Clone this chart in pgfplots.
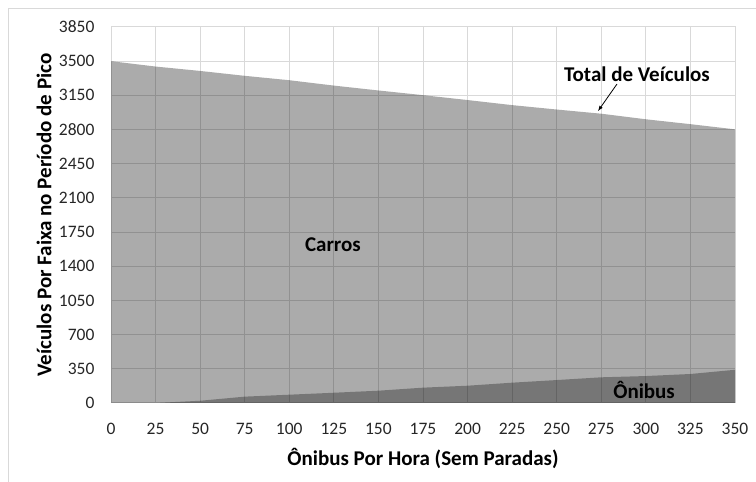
\documentclass[border=0pt]{standalone}
\usepackage{fontspec}
\setmainfont{Carlito}
\usepackage{pgfplots}
\pgfplotsset{compat=1.18}
\definecolor{gridc}{HTML}{D9D9D9}
\begin{document}
\begin{tikzpicture}[x=1pt,y=1pt]
\useasboundingbox (0,0) rectangle (756,482);
\draw[gridc, line width=1.2pt] (8.5,-5) -- (8.5,473.5) -- (770,473.5);
\begin{axis}[
    at={(111pt,79pt)}, anchor=south west,
    scale only axis, width=624pt, height=376pt,
    xmin=0, xmax=350, ymin=0, ymax=3850,
    xtick={0,25,...,350}, ytick={0,350,...,3850},
    grid=major, grid style={gridc, line width=1pt},
    axis line style={gridc, line width=1pt},
    major tick length=0pt,
    tick label style={font=\fontsize{17.5}{19}\selectfont, black!85},
    /pgf/number format/assume math mode=true,
    /pgf/number format/1000 sep={},
    xticklabel style={anchor=north, yshift=-17pt},
    yticklabel style={anchor=east, xshift=-13pt},
    xlabel={Ônibus Por Hora (Sem Paradas)},
    ylabel={Veículos Por Faixa no Período de Pico},
    label style={font=\bfseries\fontsize{21}{23}\selectfont},
    xlabel style={at={(axis description cs:0.5,-0.1463)}, anchor=center},
    ylabel style={at={(axis description cs:-0.1074,0.5)}, anchor=center},
]
% total vehicles (cars + buses)
\addplot[draw=none, fill=black, fill opacity=0.33] coordinates {
  (0,3500) (25,3445) (50,3400) (75,3350) (100,3305) (125,3250) (150,3200)
  (175,3152) (200,3102) (225,3050) (250,3005) (275,2962) (300,2905)
  (325,2855) (350,2802)
} \closedcycle;
% buses
\addplot[draw=none, fill=black, fill opacity=0.31] coordinates {
  (0,0) (25,0) (50,23) (75,65) (100,85) (125,105) (150,126)
  (175,157) (200,177) (225,208) (250,235) (275,263) (300,276)
  (325,297) (350,340)
} \closedcycle;

\node[font=\bfseries\fontsize{21}{23}\selectfont] at (axis cs:124.5,1618) {Carros};
\node[font=\bfseries\fontsize{21}{23}\selectfont] at (axis cs:295,3369) {Total de Veículos};
\draw[-latex, thick] (axis cs:283.8,3266) -- (axis cs:273.2,2990);
\node[font=\bfseries\fontsize{21}{23}\selectfont] at (axis cs:299,133) {Ônibus};
\end{axis}
\end{tikzpicture}
\end{document}
